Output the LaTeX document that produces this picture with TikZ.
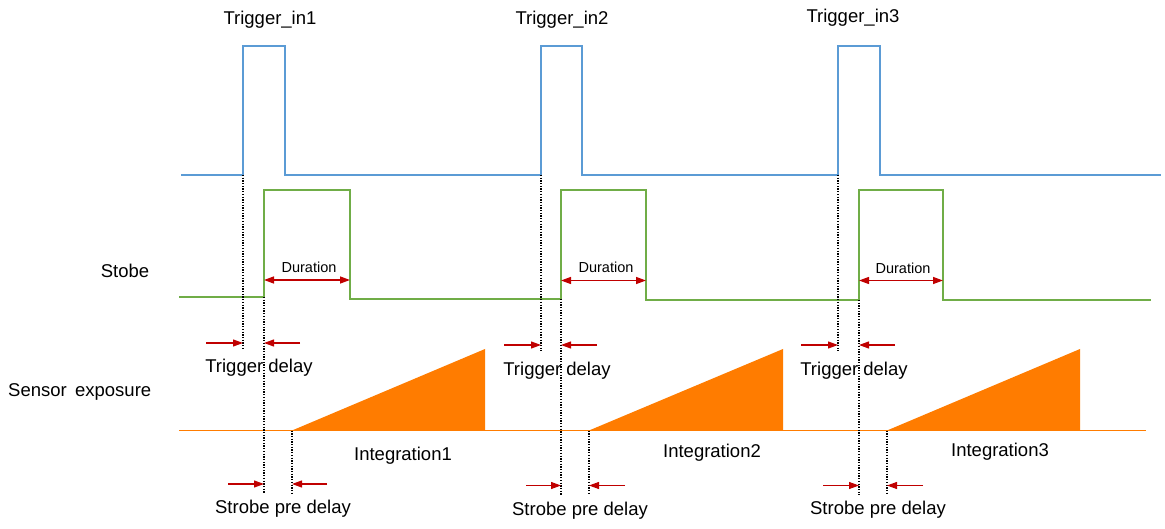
\documentclass[tikz,border=0pt]{standalone}
\usepackage{fontspec}
\setmainfont{Liberation Sans}
\usetikzlibrary{arrows.meta}
\definecolor{trigblue}{HTML}{5B9BD5}
\definecolor{strobegreen}{HTML}{70AD47}
\definecolor{expoorange}{HTML}{FF7C00}
\definecolor{arrowred}{HTML}{C00000}
\tikzset{
  wave/.style={line width=1.5pt, line join=miter},
  guide/.style={black, line width=1.2pt, dash pattern=on 1.3pt off 1.4pt},
  delayarrow/.style={arrowred, line width=1.1pt, -{Triangle[length=10pt,width=7pt]}},
  durarrow/.style={arrowred, line width=1.3pt, {Triangle[length=10pt,width=7pt]}-{Triangle[length=10pt,width=7pt]}},
  lbl/.style={inner sep=0pt, font=\fontsize{18.5}{20}\selectfont},
  smalllbl/.style={inner sep=0pt, font=\fontsize{14.5}{16}\selectfont},
}
\begin{document}
\begin{tikzpicture}[x=1pt,y=-1pt]
\useasboundingbox (0,0) rectangle (1165,529);
% ---------- key points ----------
% trigger edges
\coordinate (t1r) at (243,175); \coordinate (t1f) at (285,175);
\coordinate (t2r) at (541,175); \coordinate (t2f) at (582,175);
\coordinate (t3r) at (838,175); \coordinate (t3f) at (880,175);
% strobe edges
\coordinate (s1r) at (264,297); \coordinate (s1f) at (350,299);
\coordinate (s2r) at (561,299); \coordinate (s2f) at (646,300);
\coordinate (s3r) at (859,300); \coordinate (s3f) at (943,300);
% integration starts
\coordinate (i1) at (292,430.5);
\coordinate (i2) at (589,430.5);
\coordinate (i3) at (887,430.5);

% ---------- labels ----------
\node[lbl] (tin1) at (270,20) {Trigger\_in1};
\node[lbl] (tin2) at (562,20) {Trigger\_in2};
\node[lbl] (tin3) at (853,18) {Trigger\_in3};
\node[lbl] (stobe) at (125,271) {Stobe};
\node[lbl, anchor=west] (sensor) at (8,391.5) {Sensor\hspace{0.45em}exposure};

% ---------- trigger waveform ----------
\draw[wave, trigblue] (181,175) -- (t1r) -- (243,46) -- (285,46) -- (t1f)
  -- (t2r) -- (541,46) -- (582,46) -- (t2f)
  -- (t3r) -- (838,46) -- (880,46) -- (t3f) -- (1161,175);

% ---------- strobe waveform ----------
\draw[wave, strobegreen] (179,297) -- (s1r) -- (264,190) -- (350,190) -- (s1f)
  -- (s2r) -- (561,190) -- (646,190) -- (s2f)
  -- (s3r) -- (859,190) -- (943,190) -- (s3f) -- (1151,300);

% ---------- exposure ----------
\draw[wave, expoorange] (179,430.5) -- (1146,430.5);
\fill[expoorange] (i1) -- (485,349) -- (485,430.5) -- cycle;
\fill[expoorange] (i2) -- (783,349) -- (783,430.5) -- cycle;
\fill[expoorange] (i3) -- (1080,349) -- (1080,430.5) -- cycle;

% ---------- guide lines ----------
\coordinate (g1a) at (243,349); \coordinate (g2a) at (541,351); \coordinate (g3a) at (838,351);
\coordinate (g1b) at (264,494); \coordinate (g2b) at (561,495); \coordinate (g3b) at (859,495);
\coordinate (g1c) at (292,494); \coordinate (g2c) at (589,495); \coordinate (g3c) at (887,495);
\draw[guide] (t1r) -- (g1a); \draw[guide] (t2r) -- (g2a); \draw[guide] (t3r) -- (g3a);
\draw[guide] (s1r) -- (g1b); \draw[guide] (s2r) -- (g2b); \draw[guide] (s3r) -- (g3b);
\draw[guide] (i1) -- (g1c); \draw[guide] (i2) -- (g2c); \draw[guide] (i3) -- (g3c);

% ---------- duration ----------
\coordinate (d1a) at (264,280); \coordinate (d1b) at (350,280);
\coordinate (d2a) at (561,280.5); \coordinate (d2b) at (646,280.5);
\coordinate (d3a) at (859,280.5); \coordinate (d3b) at (943,280.5);
\draw[durarrow] (d1a) -- (d1b);
\draw[durarrow] (d2a) -- (d2b);
\draw[durarrow] (d3a) -- (d3b);
\node[smalllbl] (dur1) at (309,267) {Duration};
\node[smalllbl] (dur2) at (606,267) {Duration};
\node[smalllbl] (dur3) at (903,268) {Duration};

% ---------- trigger delay ----------
\coordinate (td1l) at (206,343); \coordinate (td1le) at (243,343);
\coordinate (td1r) at (300,343); \coordinate (td1re) at (264,343);
\coordinate (td2l) at (504,345); \coordinate (td2le) at (541,345);
\coordinate (td2r) at (597,345); \coordinate (td2re) at (561,345);
\coordinate (td3l) at (801,345); \coordinate (td3le) at (838,345);
\coordinate (td3r) at (895,345); \coordinate (td3re) at (859,345);
\draw[delayarrow] (td1l) -- (td1le); \draw[delayarrow] (td1r) -- (td1re);
\draw[delayarrow] (td2l) -- (td2le); \draw[delayarrow] (td2r) -- (td2re);
\draw[delayarrow] (td3l) -- (td3le); \draw[delayarrow] (td3r) -- (td3re);
\node[lbl] (tdl1) at (259,368) {Trigger delay};
\node[lbl] (tdl2) at (557,370.5) {Trigger delay};
\node[lbl] (tdl3) at (854,370.5) {Trigger delay};

% ---------- integration labels ----------
\node[lbl] (int1) at (403,456) {Integration1};
\node[lbl] (int2) at (712,453) {Integration2};
\node[lbl] (int3) at (1000,452) {Integration3};

% ---------- strobe pre delay ----------
\coordinate (sp1l) at (228,484); \coordinate (sp1le) at (264,484);
\coordinate (sp1r) at (327,484); \coordinate (sp1re) at (292,484);
\coordinate (sp2l) at (526,485.5); \coordinate (sp2le) at (561,485.5);
\coordinate (sp2r) at (625,485.5); \coordinate (sp2re) at (589,485.5);
\coordinate (sp3l) at (823,485.5); \coordinate (sp3le) at (859,485.5);
\coordinate (sp3r) at (923,485.5); \coordinate (sp3re) at (887,485.5);
\draw[delayarrow] (sp1l) -- (sp1le); \draw[delayarrow] (sp1r) -- (sp1re);
\draw[delayarrow] (sp2l) -- (sp2le); \draw[delayarrow] (sp2r) -- (sp2re);
\draw[delayarrow] (sp3l) -- (sp3le); \draw[delayarrow] (sp3r) -- (sp3re);
\node[lbl] (spl1) at (283,509) {Strobe pre delay};
\node[lbl] (spl2) at (580,510.5) {Strobe pre delay};
\node[lbl] (spl3) at (878,510) {Strobe pre delay};
\end{tikzpicture}
\end{document}
